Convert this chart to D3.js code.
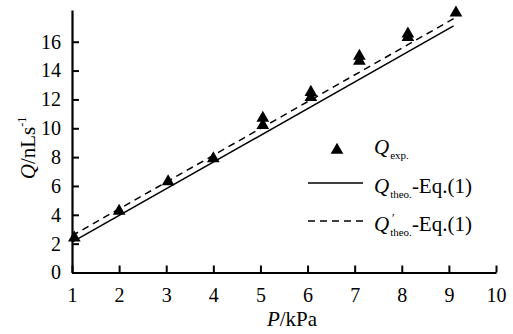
<!DOCTYPE html>
<html><head><meta charset="utf-8">
<script src="https://cdn.jsdelivr.net/npm/d3@7"></script>
</head><body style="margin:0"><svg id="c" width="513" height="334" style="display:block" font-family="Liberation Serif"></svg>
<script>
const expP = [1.05, 2.0, 3.04, 4.0, 5.05, 5.05, 6.07, 6.07, 7.1, 7.1, 8.13, 8.13, 9.15];
const expQ = [2.4, 4.25, 6.3, 7.9, 10.7, 10.2, 12.5, 12.15, 15.0, 14.65, 16.55, 16.3, 18.0];
const theoP = [1, 9.1];
const theoQ = [2.1, 17.1];
const theoPrimeQ = [2.55, 17.6];
const xTicks = [1,2,3,4,5,6,7,8,9,10];
const yTicks = [0,2,4,6,8,10,12,14,16];

const svg = d3.select("#c");
const FONT = "Liberation Serif";
const x = d3.scaleLinear().domain([1,10]).range([72,496]);
const y = d3.scaleLinear().domain([0,18.2]).range([272.5,10]);

const xa = svg.append("g").attr("transform","translate(0,272.5)")
  .call(d3.axisBottom(x).tickValues(xTicks).tickSizeInner(-7).tickSizeOuter(0).tickPadding(14).tickFormat(d3.format("d")));
const ya = svg.append("g").attr("transform","translate(72,0)")
  .call(d3.axisLeft(y).tickValues(yTicks).tickSizeInner(-7).tickSizeOuter(0).tickPadding(14).tickFormat(d3.format("d")));
[xa,ya].forEach(a=>{
  a.attr("font-family",FONT).attr("font-size",20);
  a.selectAll("path").attr("stroke","#000").attr("stroke-width",2.2);
  a.selectAll("line").attr("stroke","#000").attr("stroke-width",2);
  a.selectAll("text").attr("font-family",FONT).attr("font-size",20).attr("fill","#000");
});
xa.selectAll("text").attr("dy","0.75em");
ya.selectAll("text").attr("dx","3");

const line = d3.line().x(d=>x(d[0])).y(d=>y(d[1]));
svg.append("path").attr("d", line(theoP.map((p,i)=>[p,theoQ[i]])))
  .attr("fill","none").attr("stroke","#000").attr("stroke-width",1.5);
svg.append("path").attr("d", line(theoP.map((p,i)=>[p,theoPrimeQ[i]])))
  .attr("fill","none").attr("stroke","#000").attr("stroke-width",1.5).attr("stroke-dasharray","7,5");

const tri = d3.symbol().type(d3.symbolTriangle).size(70);
svg.append("g").selectAll("path").data(expP.map((p,i)=>[p,expQ[i]])).join("path")
  .attr("d", tri).attr("transform", d=>`translate(${x(d[0])},${y(d[1])})`).attr("fill","#000");

function txt(size){ return svg.append("text").attr("font-family",FONT).attr("font-size",size).attr("fill","#000"); }
const P = txt(21).attr("x",292).attr("y",326).attr("text-anchor","middle");
P.append("tspan").attr("font-style","italic").text("P");
P.append("tspan").text("/kPa");
const Q = txt(21).attr("transform","translate(35,148) rotate(-90)").attr("text-anchor","middle");
Q.append("tspan").attr("font-style","italic").text("Q");
Q.append("tspan").text("/nLs");
Q.append("tspan").attr("font-size",12).attr("dy",-9).text("-1");

svg.append("path").attr("d", tri).attr("transform","translate(337,150)").attr("fill","#000");
svg.append("line").attr("x1",308).attr("x2",363).attr("y1",183).attr("y2",183).attr("stroke","#000").attr("stroke-width",1.5);
svg.append("line").attr("x1",308).attr("x2",363).attr("y1",221).attr("y2",221).attr("stroke","#000").attr("stroke-width",1.5).attr("stroke-dasharray","7,5");
const legendRows = [["exp.",154,false],["theo.",193,true],["theo.",231,true]];
legendRows.forEach(([sub,yy,eq])=>{
  const t = txt(21).attr("x",374).attr("y",yy);
  t.append("tspan").attr("font-style","italic").text("Q");
  t.append("tspan").attr("font-size",11).attr("dy",5).attr("dx",1).text(sub);
  if (eq) t.append("tspan").attr("dy",-5).text("-Eq.(1)");
});
txt(12).attr("x",392).attr("y",222).text("\u2032");
</script></body></html>
